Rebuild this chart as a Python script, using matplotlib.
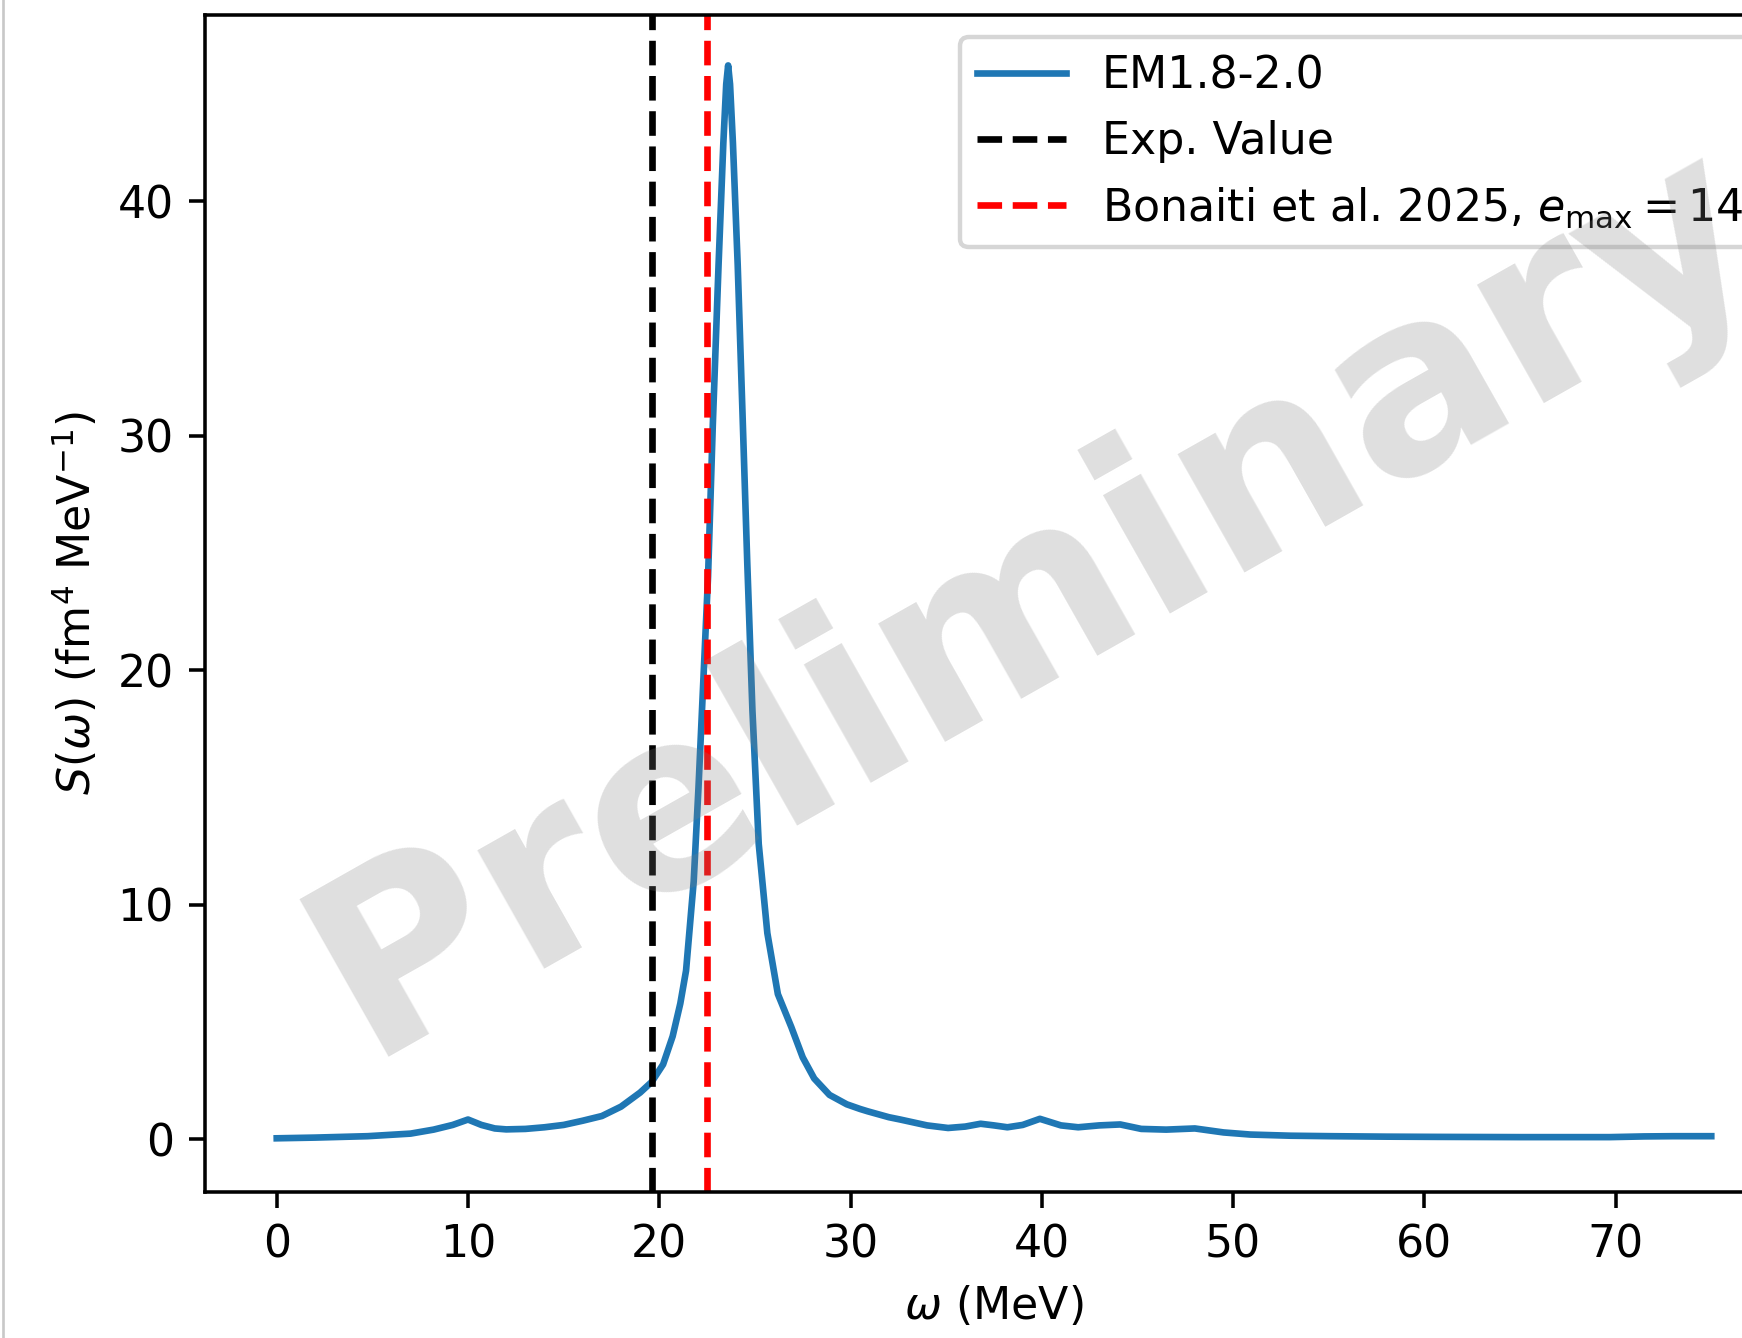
import matplotlib
matplotlib.use('Agg')
import matplotlib.pyplot as plt
from matplotlib.lines import Line2D

# response function (MeV, fm^4 MeV^-1)
omega = [0, 2, 4.75, 7, 8.2, 9.2, 10.0, 10.7, 11.4, 12.0, 13.0, 14.0, 15.0, 16.0,
         17.0, 18.0, 19.0, 19.6, 20.2, 20.7, 21.1, 21.4, 21.8, 22.05, 22.3,
         22.55, 22.8, 23.1, 23.35, 23.5, 23.6, 23.7, 23.85, 24.1, 24.35, 24.6,
         24.87, 25.2, 25.65, 26.2, 26.9, 27.5, 28.1, 28.9, 29.8, 30.5, 30.9,
         32.0, 32.6, 34.0, 35.1, 36.0, 36.8, 37.5, 38.2, 39.0, 39.9, 41.0,
         41.9, 43.0, 44.1, 45.2, 46.5, 48.0, 49.5, 50.9, 53.0, 55.1, 58.0,
         60.7, 65.0, 69.7, 71.5, 73.0, 75.0]
strength = [0.05, 0.08, 0.14, 0.25, 0.42, 0.62, 0.85, 0.62, 0.47, 0.43, 0.45, 0.52,
            0.62, 0.8, 1.0, 1.4, 2.0, 2.45, 3.2, 4.4, 5.8, 7.2, 11.0, 15.0, 19.5,
            24.0, 30.5, 37.3, 42.5, 45.0, 45.8, 45.0, 42.5, 37.3, 31.0, 24.6,
            18.3, 12.6, 8.8, 6.2, 4.8, 3.5, 2.6, 1.9, 1.5, 1.3, 1.2,
            0.95, 0.85, 0.6, 0.49, 0.55, 0.67, 0.6, 0.52, 0.62, 0.88, 0.6,
            0.52, 0.6, 0.64, 0.45, 0.42, 0.47, 0.3, 0.21, 0.16, 0.14, 0.12,
            0.11, 0.10, 0.10, 0.13, 0.14, 0.14]

exp_value = 19.6
bonaiti_value = 22.5

DPI = 319
fig = plt.figure(figsize=(1742 / DPI, 1338 / DPI), dpi=DPI)
# the reference is a crop: the axes run past the right edge of the picture
ax = fig.add_axes([205 / 1742, 146 / 1338, 1578 / 1742, 1177 / 1338])

ax.plot(omega, strength, label='EM1.8-2.0')
ax.axvline(exp_value, color='k', linestyle='--', label='Exp. Value')
ax.axvline(bonaiti_value, color='r', linestyle='--',
           label=r'Bonaiti et al. 2025, $e_{\mathrm{max}} = 14$')

ax.set_xlim(-3.75, 78.75)
ax.set_ylim(-2.24, 47.95)
ax.set_xlabel(r'$\omega$ (MeV)')
ax.set_ylabel(r'$S(\omega)$ (fm$^4$ MeV$^{-1}$)')
ax.legend(loc='upper right')

ax.text(0.526, 0.502, 'Preliminary', transform=ax.transAxes, fontsize=56,
        fontweight='bold', color='gray', alpha=0.25, rotation=29.5,
        ha='center', va='center', zorder=10)

# thin grey border on the left of the screenshot
fig.add_artist(Line2D([0.002, 0.002], [0, 1], color='#c8c8c8', lw=0.6))

fig.savefig('out.png', dpi=DPI)
